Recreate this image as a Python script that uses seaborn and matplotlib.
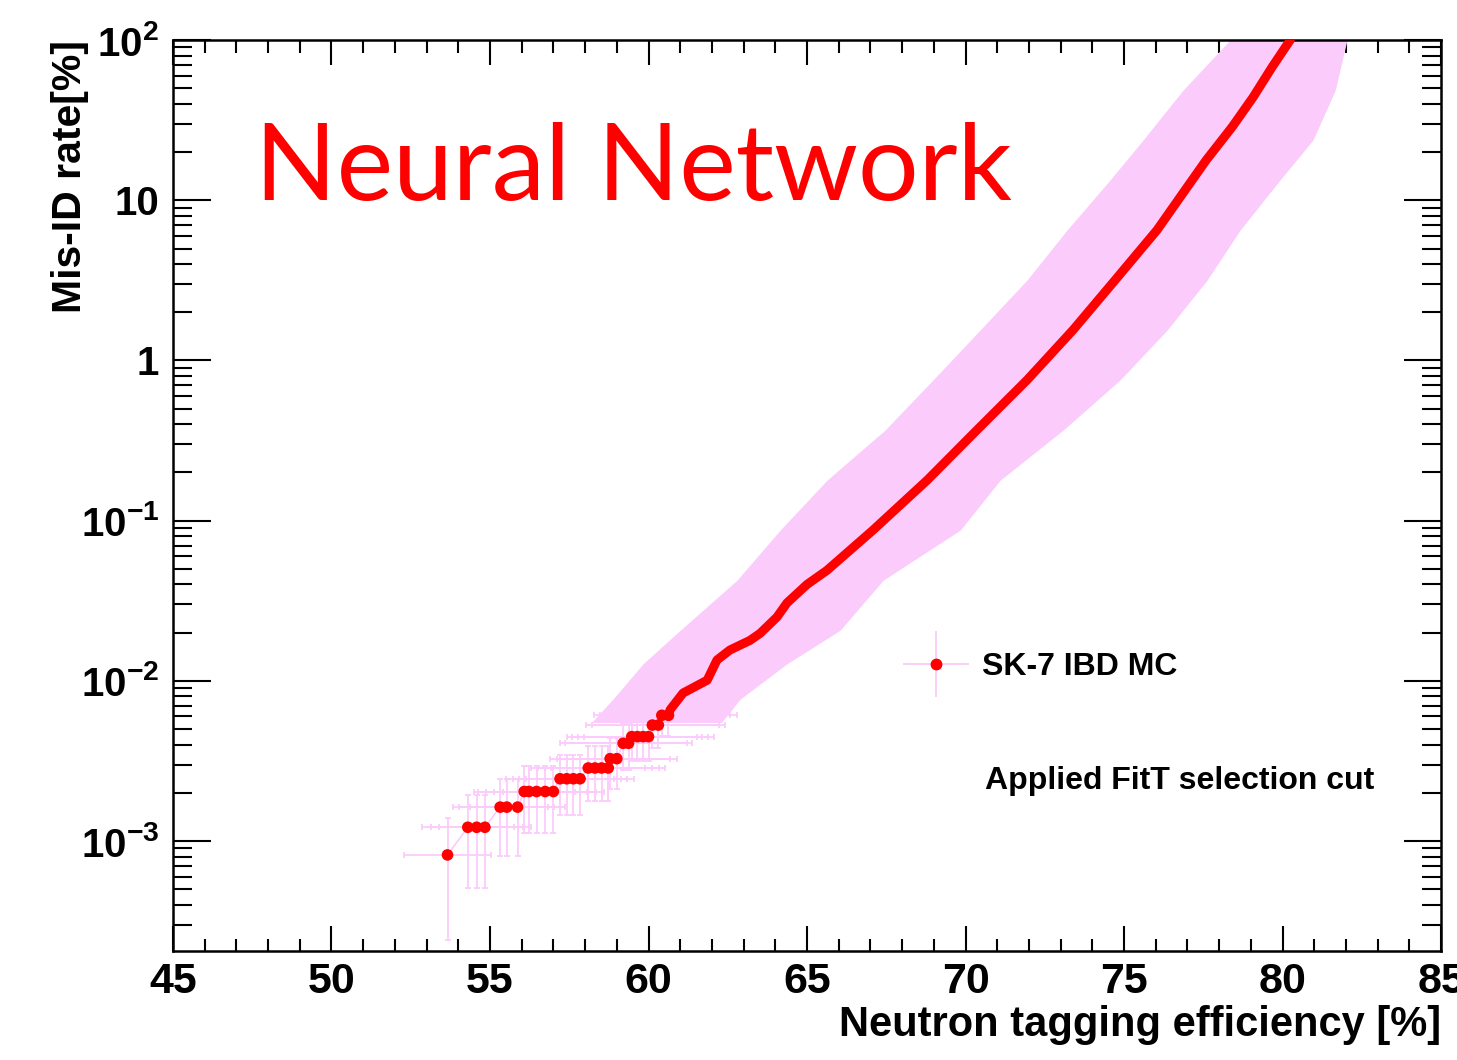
import matplotlib
matplotlib.use("Agg")
import matplotlib.pyplot as plt
import seaborn as sns
from matplotlib.lines import Line2D
from matplotlib.legend_handler import HandlerTuple
from matplotlib.ticker import MultipleLocator, LogLocator, NullFormatter

# --- data ---
# low-statistics points (discrete steps) with their error bars
low_eff = [53.66,
           54.30, 54.58, 54.84,
           55.32, 55.53, 55.87,
           56.08, 56.23, 56.47, 56.74, 57.00,
           57.21, 57.42, 57.63, 57.84,
           58.10, 58.31, 58.52, 58.73,
           58.79, 59.00,
           59.20, 59.37,
           59.47, 59.65, 59.83, 60.00,
           60.12, 60.31,
           60.42, 60.63]
low_misid = [0.00082,
             0.00122, 0.00122, 0.00122,
             0.00163, 0.00163, 0.00163,
             0.00204, 0.00204, 0.00204, 0.00204, 0.00204,
             0.00245, 0.00245, 0.00245, 0.00245,
             0.00286, 0.00286, 0.00286, 0.00286,
             0.00327, 0.00327,
             0.00408, 0.00408,
             0.00449, 0.00449, 0.00449, 0.00449,
             0.00530, 0.00530,
             0.00610, 0.00610]
low_xerr = [1.36,
            1.45, 1.45, 1.45,
            1.50, 1.50, 1.50,
            1.60, 1.60, 1.60, 1.60, 1.60,
            1.70, 1.70, 1.70, 1.70,
            1.80, 1.80, 1.80, 1.80,
            1.90, 1.90,
            2.00, 2.00,
            2.05, 2.05, 2.05, 2.05,
            2.10, 2.10,
            2.15, 2.15]
low_yerr = [0.00058,
            0.00071, 0.00071, 0.00071,
            0.00082, 0.00082, 0.00082,
            0.00091, 0.00091, 0.00091, 0.00091, 0.00091,
            0.00100, 0.00100, 0.00100, 0.00100,
            0.00108, 0.00108, 0.00108, 0.00108,
            0.00115, 0.00115,
            0.00129, 0.00129,
            0.00135, 0.00135, 0.00135, 0.00135,
            0.00147, 0.00147,
            0.00158, 0.00158]

# dense part of the curve
curve_eff = [60.63, 60.68, 61.09, 61.85, 62.16, 62.57, 63.20, 63.52, 64.05, 64.37,
             65.00, 65.63, 67.08, 68.79, 70.36, 71.94, 73.39, 74.72, 76.04,
             76.86, 77.59, 78.41, 79.07, 79.67, 80.24]
curve_misid = [0.0061, 0.0066, 0.0084, 0.0101, 0.0135, 0.0156, 0.0179, 0.0198, 0.025, 0.0307,
               0.040, 0.049, 0.0873, 0.179, 0.368, 0.755, 1.55, 3.18, 6.52,
               11.1, 17.8, 28.7, 44.0, 67.9, 100.0]

# edges of the pink error band (horizontal errors)
band_misid = [0.0055, 0.0077, 0.0128, 0.0207, 0.0425, 0.0873, 0.179, 0.368, 0.755,
              1.55, 3.18, 6.52, 13.4, 23.8, 48.7, 100.0]
band_left = [58.20, 58.88, 59.83, 61.00, 62.79, 64.15, 65.63, 67.46, 68.97,
             70.46, 71.94, 73.20, 74.56, 75.60, 76.86, 78.34]
band_right = [62.30, 62.89, 64.37, 66.04, 67.40, 69.83, 71.09, 73.08, 74.87,
              76.36, 77.62, 78.66, 79.92, 80.96, 81.66, 82.03]

y_ticks = [1e-3, 1e-2, 1e-1, 1, 10, 100]
y_tick_labels = [r"$10^{-3}$", r"$10^{-2}$", r"$10^{-1}$", "1", "10", r"$10^{2}$"]

PINK = "#fbcbfb"

sns.set_theme(style="ticks")
plt.rcParams["font.family"] = ["Liberation Sans", "DejaVu Sans"]
plt.rcParams["font.weight"] = "bold"
plt.rcParams["text.color"] = "black"
plt.rcParams["axes.labelcolor"] = "black"
plt.rcParams["xtick.color"] = "black"
plt.rcParams["ytick.color"] = "black"
plt.rcParams["mathtext.fontset"] = "custom"
plt.rcParams["mathtext.rm"] = "Liberation Sans:bold"
plt.rcParams["mathtext.it"] = "Liberation Sans:bold"
plt.rcParams["mathtext.bf"] = "Liberation Sans:bold"

fig = plt.figure(figsize=(14.57, 10.60), dpi=100)
ax = fig.add_axes([0.1187, 0.1028, 0.8704, 0.8594])
ax.set_yscale("log")

# error band + error bars
ax.fill_betweenx(band_misid, band_left, band_right, color=PINK, lw=0, zorder=1)
ax.errorbar(low_eff, low_misid, xerr=low_xerr, yerr=low_yerr, fmt="none",
            ecolor=PINK, elinewidth=1.3, capsize=2.5, capthick=1.3, zorder=2)
sns.lineplot(x=low_eff, y=low_misid, sort=False, estimator=None,
             color=PINK, lw=1.2, ax=ax, zorder=2)

# points
sns.lineplot(x=curve_eff, y=curve_misid, sort=False, estimator=None,
             color="red", lw=6.5, ax=ax, zorder=3, solid_capstyle="round")
sns.scatterplot(x=low_eff, y=low_misid, color="red", s=70, edgecolor="none",
                ax=ax, zorder=4)

ax.set_xlim(45, 85)
ax.set_ylim(2.06e-4, 100)
ax.xaxis.set_major_locator(MultipleLocator(5))
ax.xaxis.set_minor_locator(MultipleLocator(1))
ax.set_yticks(y_ticks, labels=y_tick_labels)
ax.yaxis.set_minor_locator(LogLocator(base=10, subs=range(2, 10), numticks=20))
ax.yaxis.set_minor_formatter(NullFormatter())

ax.tick_params(which="both", direction="in", top=True, right=True, color="black",
               labelcolor="black")
ax.tick_params(axis="x", which="major", length=18, width=1.5, labelsize=31, pad=8)
ax.tick_params(axis="x", which="minor", length=9, width=1.5)
ax.tick_params(axis="y", which="major", length=27, width=1.5, labelsize=29, pad=10)
ax.tick_params(axis="y", which="minor", length=14, width=1.5)
for s in ax.spines.values():
    s.set_linewidth(1.8)
    s.set_color("black")

ax.set_xlabel("Neutron tagging efficiency [%]", fontsize=30, fontweight="bold",
              loc="right", color="black")
ax.xaxis.set_label_coords(1.0, -0.059)
ax.set_ylabel("Mis-ID rate[%]", fontsize=29.5, fontweight="bold", loc="top", color="black")
ax.yaxis.set_label_coords(-0.066, 1.0)

# legend
h_err = Line2D([], [], ls="none", marker="+", markersize=48, mec=PINK, mew=1.3)
h_dot = Line2D([], [], ls="none", marker="o", markersize=7.5, mfc="red", mec="red")
ax.legend([(h_err, h_dot)], ["SK-7 IBD MC"], handler_map={tuple: HandlerTuple(ndivide=1)},
          loc="center left", bbox_to_anchor=(0.575, 0.312), frameon=False,
          fontsize=23, handlelength=2.1, handletextpad=0.4, borderpad=0, borderaxespad=0)

ax.text(0.640, 0.1866, "Applied FitT selection cut", transform=ax.transAxes,
        fontsize=23, fontweight="bold", va="center", ha="left", color="black")
ax.text(0.0647, 0.824, "Neural Network", transform=ax.transAxes, color="red",
        fontsize=77, fontfamily="Lato", fontweight="normal", va="baseline", ha="left")

fig.savefig("out.png", dpi=100)
